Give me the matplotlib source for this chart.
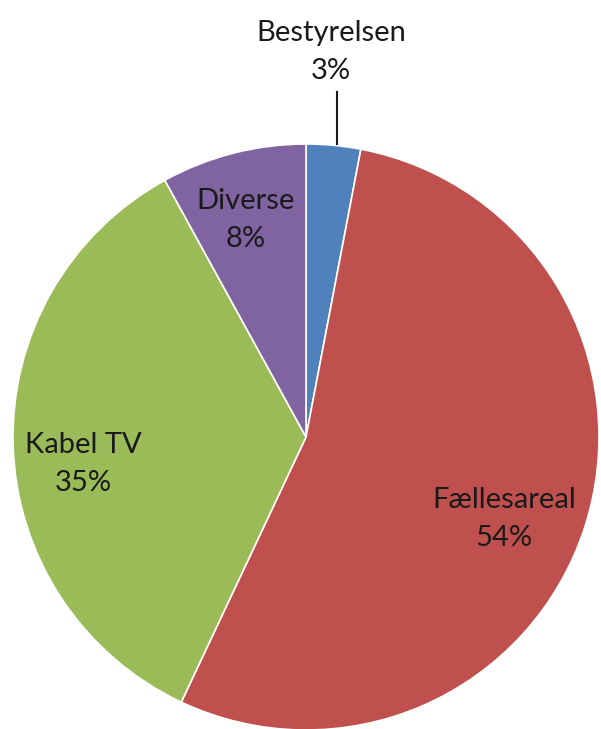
import matplotlib.pyplot as plt

# data
labels = ['Bestyrelsen', 'Fællesareal', 'Kabel TV', 'Diverse']
shares = [3, 54, 35, 8]
colors = ['#4F81BD', '#C0504D', '#9BBB59', '#8064A2']

plt.rcParams['font.family'] = ['Lato', 'DejaVu Sans']

W, H = 601, 729
fig = plt.figure(figsize=(W / 100, H / 100), dpi=100)
ax = fig.add_axes([0, 0, 1, 1])

# pie in pixel coords (y flipped)
cx, cy, r = 306, H - 437, 293
ax.pie(shares, colors=colors, startangle=90, counterclock=False,
       center=(cx, cy), radius=r, frame=True,
       wedgeprops=dict(edgecolor='white', linewidth=1.2))
ax.set_xlim(0, W)
ax.set_ylim(0, H)
ax.axis('off')

# label positions (pixel, top-down)
pos = {
    'Bestyrelsen': (331, 52),
    'Fællesareal': (504, 519),
    'Kabel TV': (83, 464),
    'Diverse': (246, 220),
}
for lab, val in zip(labels, shares):
    x, y = pos[lab]
    ax.text(x, H - y, f'{lab}\n{val}%', ha='center', va='center',
            fontsize=21, color='#1a1a1a', linespacing=1.55)

# leader line for small slice
ax.plot([337, 337], [H - 92, H - 144], color='#1a1a1a', lw=1.5)

fig.savefig('out.png', dpi=100, facecolor='white')
